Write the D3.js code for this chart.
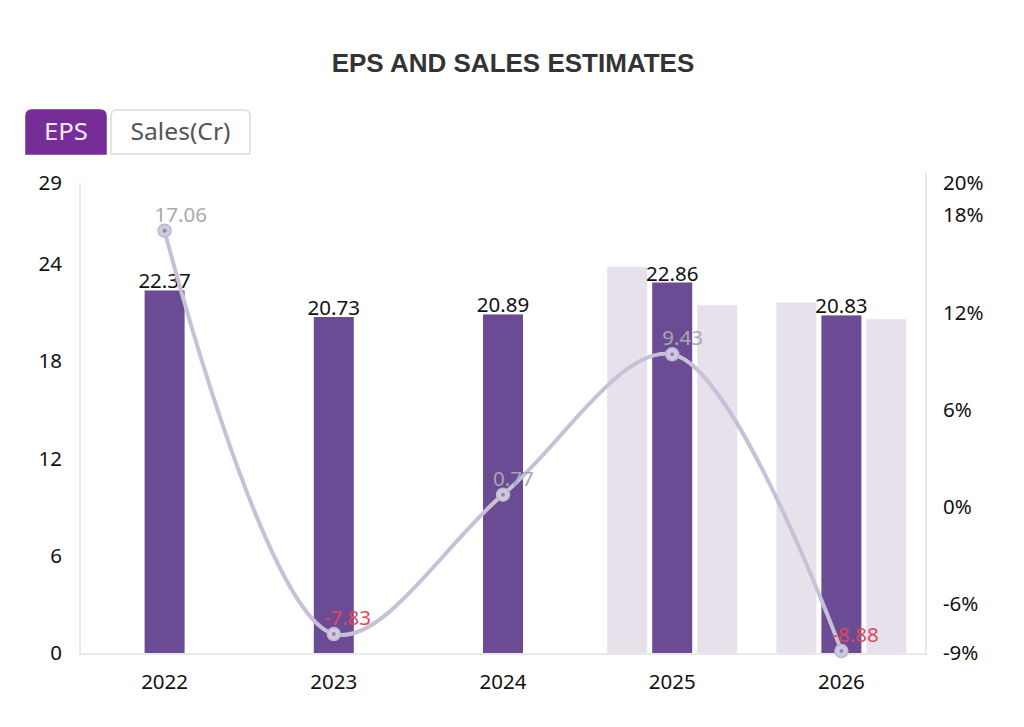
<!DOCTYPE html>
<html>
<head>
<meta charset="utf-8">
<script src="https://cdn.jsdelivr.net/npm/d3@7"></script>
<style>
  body { margin: 0; background: #fff; }
  svg { display: block; }
</style>
</head>
<body>
<svg id="chart" width="1024" height="727"></svg>
<script>
const years = ["2022", "2023", "2024", "2025", "2026"];
const epsValues = [22.37, 20.73, 20.89, 22.86, 20.83];
const highEstimates = [null, null, null, 23.83, 21.63];
const lowEstimates = [null, null, null, 21.46, 20.59];
const growthValues = [17.06, -7.83, 0.77, 9.43, -8.88];
const leftTicks = [0, 6, 12, 18, 24, 29];
const rightTicks = [-9, -6, 0, 6, 12, 18, 20];
const tabLabels = ["EPS", "Sales(Cr)"];
const titleText = "EPS AND SALES ESTIMATES";

const svg = d3.select("#chart");
const font = "'Noto Sans', 'Open Sans', sans-serif";
const fs = 20.5;

const plot = { left: 80, right: 926, top: 183, bottom: 653 };

const x = d3.scaleBand().domain(years).range([plot.left, plot.right]).padding(0);
const sub = d3.scaleBand().domain(["high", "eps", "low"])
  .range([-67.5, 67.5]).paddingInner(1 / 9).paddingOuter(1 / 18);
const yL = d3.scaleLinear().domain([0, 29]).range([plot.bottom, plot.top]);
const yR = d3.scaleLinear().domain([-9, 20]).range([plot.bottom, plot.top]);

// Title
svg.append("text")
  .attr("x", 513).attr("y", 72)
  .attr("text-anchor", "middle")
  .attr("font-family", "'Liberation Sans', Arial, sans-serif")
  .attr("font-weight", "bold")
  .attr("font-size", 26)
  .attr("fill", "#333")
  .text(titleText);

// Tabs
const tabs = [
  { x: 26, w: 80, active: true },
  { x: 111, w: 139, active: false }
];
tabs.forEach((t, i) => {
  const y0 = 110, h = 44, r = 6;
  const path = `M${t.x},${y0 + h} L${t.x},${y0 + r} Q${t.x},${y0} ${t.x + r},${y0} L${t.x + t.w - r},${y0} Q${t.x + t.w},${y0} ${t.x + t.w},${y0 + r} L${t.x + t.w},${y0 + h} Z`;
  svg.append("path").attr("d", path)
    .attr("fill", t.active ? "#772d98" : "#fff")
    .attr("stroke", t.active ? "#772d98" : "#dcdcdc")
    .attr("stroke-width", 1.5);
  svg.append("text")
    .attr("x", t.x + t.w / 2).attr("y", y0 + 30)
    .attr("text-anchor", "middle")
    .attr("font-family", font)
    .attr("font-size", 23)
    .attr("textLength", i === 0 ? 44 : 100)
    .attr("lengthAdjust", "spacingAndGlyphs")
    .attr("fill", t.active ? "#f3eaf8" : "#555")
    .text(tabLabels[i]);
});

// Axes lines
svg.append("line").attr("x1", plot.left).attr("x2", plot.left)
  .attr("y1", plot.top).attr("y2", plot.bottom + 2)
  .attr("stroke", "#e2e2e2").attr("stroke-width", 1.5);
svg.append("line").attr("x1", plot.right).attr("x2", plot.right)
  .attr("y1", plot.top - 10).attr("y2", plot.bottom + 2)
  .attr("stroke", "#e2e2e2").attr("stroke-width", 1.5);

// Left axis
const leftAxis = d3.axisLeft(yL).tickValues(leftTicks).tickSize(0).tickPadding(18);
const gL = svg.append("g").attr("transform", `translate(${plot.left},0)`).call(leftAxis);
gL.select(".domain").remove();
gL.selectAll("text").attr("font-family", font).attr("font-size", fs).attr("fill", "#111");

// Right axis
const rightAxis = d3.axisRight(yR).tickValues(rightTicks).tickSize(0).tickPadding(17)
  .tickFormat(d => d + "%");
const gR = svg.append("g").attr("transform", `translate(${plot.right},0)`).call(rightAxis);
gR.select(".domain").remove();
gR.selectAll("text").attr("font-family", font).attr("font-size", fs).attr("fill", "#111");

// Bars
const barData = years.map((yr, i) => ({ yr, eps: epsValues[i], high: highEstimates[i], low: lowEstimates[i] }));

const groups = svg.append("g").selectAll("g").data(barData).join("g")
  .attr("transform", d => `translate(${x(d.yr) + x.bandwidth() / 2},0)`);

groups.filter(d => d.high != null).append("rect")
  .attr("x", sub("high")).attr("width", sub.bandwidth())
  .attr("y", d => yL(d.high)).attr("height", d => yL(0) - yL(d.high))
  .attr("fill", "#e6e1eb");
groups.filter(d => d.low != null).append("rect")
  .attr("x", sub("low")).attr("width", sub.bandwidth())
  .attr("y", d => yL(d.low)).attr("height", d => yL(0) - yL(d.low))
  .attr("fill", "#e6e1eb");
groups.append("rect")
  .attr("x", sub("eps")).attr("width", sub.bandwidth())
  .attr("y", d => yL(d.eps)).attr("height", d => yL(0) - yL(d.eps))
  .attr("fill", "#6a4b94");

// Baseline
svg.append("line").attr("x1", plot.left).attr("x2", plot.right)
  .attr("y1", plot.bottom + 1).attr("y2", plot.bottom + 1)
  .attr("stroke", "#e2e2e2").attr("stroke-width", 1.5);

// Bar labels
groups.append("text")
  .attr("x", sub("eps") + sub.bandwidth() / 2)
  .attr("y", d => yL(d.eps) - 2)
  .attr("text-anchor", "middle")
  .attr("font-family", font).attr("font-size", fs).attr("fill", "#111")
  .text(d => d.eps.toFixed(2));

// X axis labels
const xAxis = d3.axisBottom(x).tickSize(0).tickPadding(21);
const gX = svg.append("g").attr("transform", `translate(0,${plot.bottom})`).call(xAxis);
gX.select(".domain").remove();
gX.selectAll("text").attr("font-family", font).attr("font-size", fs).attr("fill", "#111");

// Growth line
const lineData = years.map((yr, i) => ({ yr, v: growthValues[i] }));
const line = d3.line()
  .x(d => x(d.yr) + x.bandwidth() / 2)
  .y(d => yR(d.v))
  .curve(d3.curveCatmullRom.alpha(0.5));
svg.append("path").datum(lineData)
  .attr("d", line)
  .attr("fill", "none")
  .attr("stroke", "#c6c1d6")
  .attr("stroke-width", 4)
  .attr("stroke-linecap", "round");

const pts = svg.append("g").selectAll("g").data(lineData).join("g")
  .attr("transform", d => `translate(${x(d.yr) + x.bandwidth() / 2},${yR(d.v)})`);
pts.append("circle").attr("r", 6.5).attr("fill", "#cfcadf").attr("stroke", "#bdb7cf").attr("stroke-width", 1.5);
pts.append("circle").attr("r", 2).attr("fill", "#8f88a6");

pts.append("text")
  .attr("x", -10).attr("y", -9)
  .attr("font-family", font).attr("font-size", fs)
  .attr("fill", d => d.v < 0 ? "#e0465c" : "#a9a9ad")
  .text(d => d.v.toFixed(2));
</script>
</body>
</html>
